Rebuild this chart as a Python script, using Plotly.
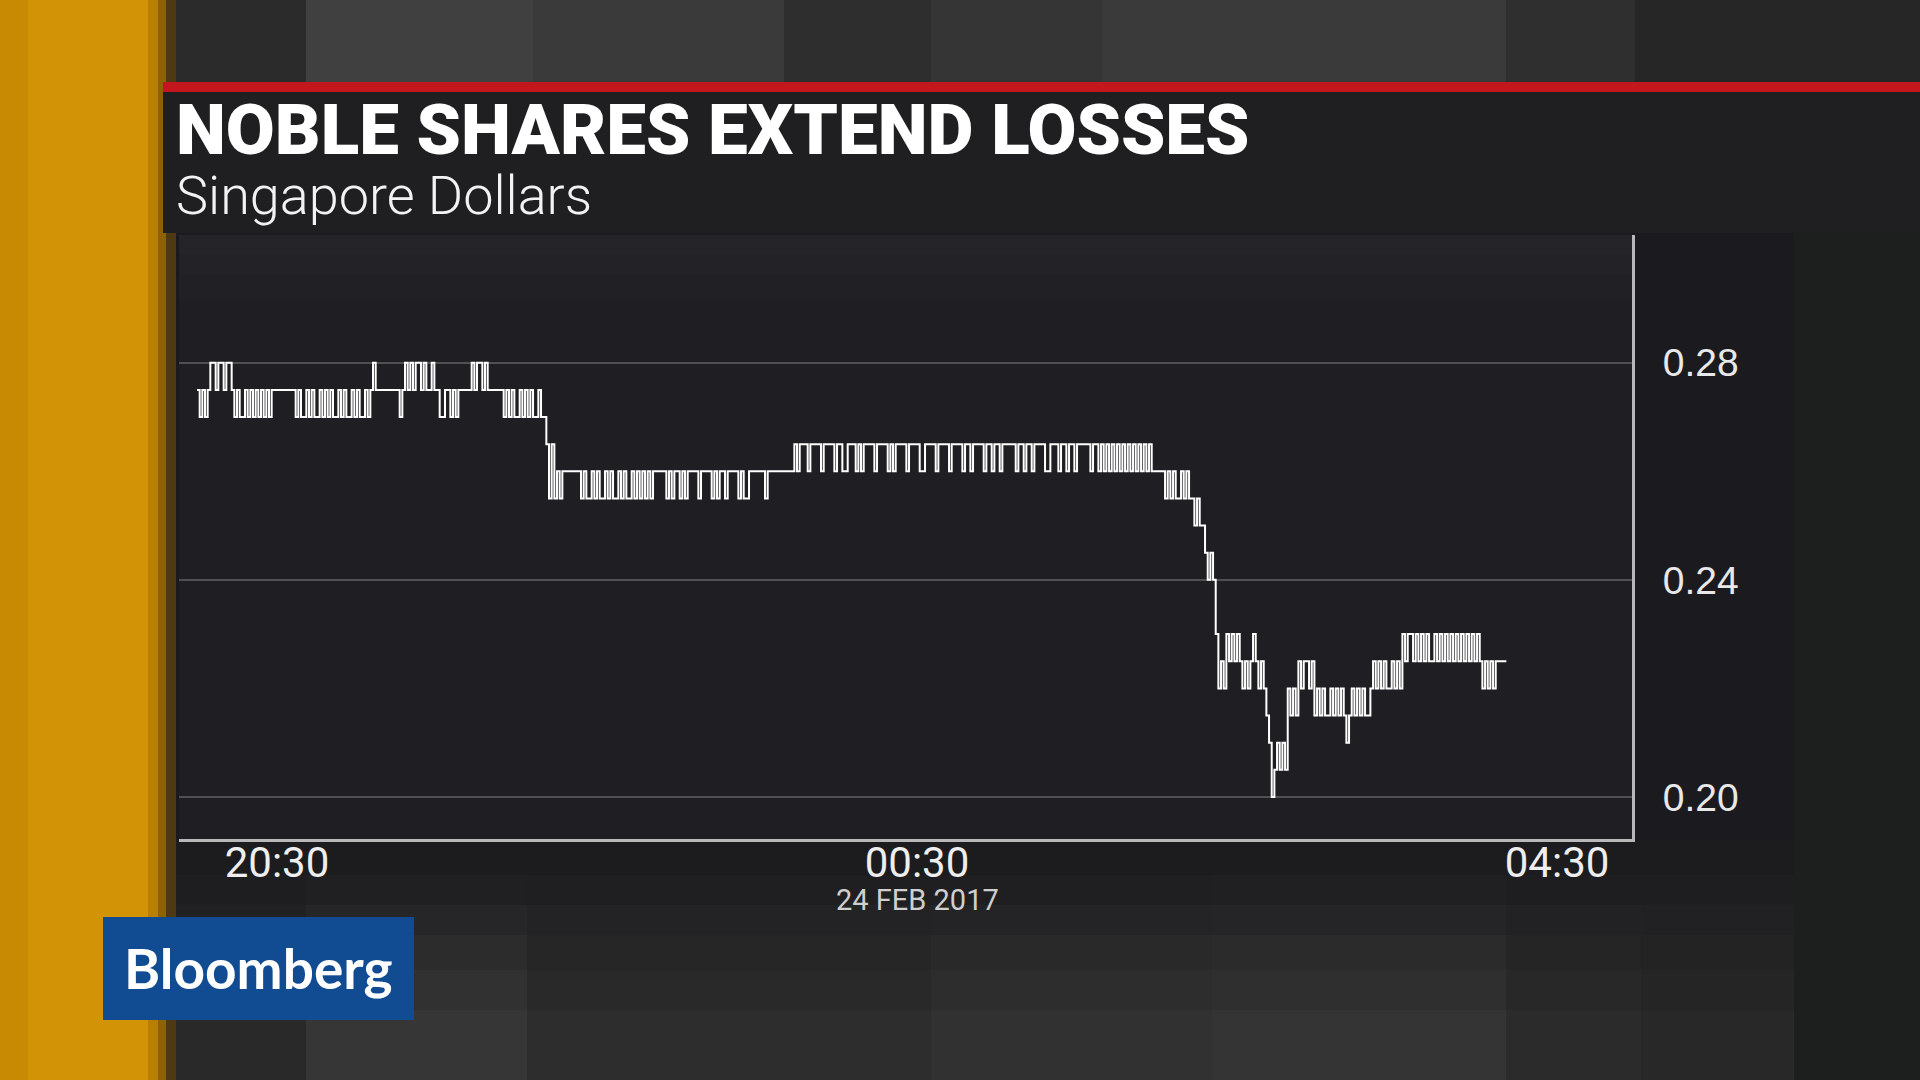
import pandas as pd
import plotly.graph_objects as go

# ---------------- data ----------------
TITLE = "NOBLE SHARES EXTEND LOSSES"
SUBTITLE = "Singapore Dollars"
DATE_LABEL = "24 FEB 2017"
SESSION_START = "2017-02-23 20:00"
X_TICKS = ["2017-02-23 20:30", "2017-02-24 00:30", "2017-02-24 04:30"]
X_TICK_LABELS = ["20:30", "00:30", "04:30"]
DATE_SEPARATOR = "2017-02-24 00:30"
Y_TICKS = [0.20, 0.24, 0.28]
Y_TICK_LABELS = ["0.20", "0.24", "0.28"]

# per-minute prices (SGD); each block starts N minutes after SESSION_START
block1_start = 0
block1_prices = [0.275, 0.27, 0.275, 0.27, 0.275, 0.28, 0.28, 0.275, 0.28, 0.28, 0.275, 0.28, 0.28,
                 0.275, 0.27, 0.275, 0.27, 0.27, 0.275, 0.27, 0.275, 0.27, 0.275, 0.27, 0.275, 0.27,
                 0.275, 0.27, 0.275, 0.275, 0.275, 0.275, 0.275, 0.275, 0.275, 0.275, 0.275]

block2_start = 37
block2_prices = [0.27, 0.275, 0.27, 0.27, 0.275, 0.27, 0.275, 0.27, 0.27, 0.275, 0.27, 0.275, 0.27,
                 0.275, 0.27, 0.27, 0.275, 0.27, 0.275, 0.27, 0.27, 0.275, 0.27, 0.275, 0.27, 0.27,
                 0.275, 0.27, 0.275, 0.28, 0.275, 0.275, 0.275, 0.275, 0.275, 0.275, 0.275, 0.275, 0.275]

block3_start = 76
block3_prices = [0.27, 0.275, 0.28, 0.275, 0.28, 0.275, 0.28, 0.28, 0.275, 0.28, 0.275, 0.275, 0.28,
                 0.275, 0.275, 0.27, 0.27, 0.275, 0.275, 0.27, 0.275, 0.27, 0.275, 0.275, 0.275,
                 0.275, 0.275, 0.28, 0.275, 0.28, 0.28, 0.275, 0.28, 0.275, 0.275, 0.275, 0.275,
                 0.275, 0.275, 0.27, 0.275, 0.27, 0.275, 0.27, 0.27, 0.275, 0.27, 0.275, 0.27, 0.275,
                 0.27, 0.27, 0.275, 0.27, 0.27]

block4_start = 131
block4_prices = [0.265, 0.255, 0.265, 0.255, 0.26, 0.255, 0.26, 0.26, 0.26, 0.26, 0.26, 0.26, 0.26,
                 0.255, 0.26, 0.255, 0.255, 0.26, 0.255, 0.26, 0.255, 0.255, 0.26, 0.255, 0.26,
                 0.255, 0.255, 0.26, 0.255, 0.26, 0.255, 0.255, 0.26, 0.255, 0.26, 0.255,
                 0.26, 0.255, 0.26, 0.255, 0.26, 0.26, 0.26, 0.26, 0.26, 0.255, 0.26, 0.255, 0.26,
                 0.26, 0.255, 0.26, 0.255, 0.26, 0.26, 0.26, 0.26, 0.255, 0.26, 0.26, 0.26, 0.26,
                 0.255, 0.26, 0.255, 0.26, 0.26, 0.255, 0.26, 0.26, 0.26, 0.26, 0.255, 0.26, 0.255,
                 0.255, 0.26, 0.26, 0.26, 0.26, 0.26, 0.26, 0.255, 0.26, 0.26, 0.26, 0.26,
                 0.26, 0.26, 0.26, 0.26, 0.26, 0.26]

block5_start = 224
block5_prices = [0.265, 0.26, 0.265, 0.265, 0.265, 0.26, 0.265, 0.265, 0.265, 0.265, 0.26, 0.265,
                 0.265, 0.265, 0.265, 0.26, 0.265, 0.265, 0.26, 0.26, 0.265, 0.265, 0.265, 0.26,
                 0.265, 0.26, 0.265, 0.265, 0.265, 0.265, 0.26, 0.265, 0.265, 0.265, 0.265, 0.26,
                 0.265, 0.26, 0.265, 0.265, 0.265, 0.265, 0.26, 0.265, 0.265, 0.265, 0.265, 0.26,
                 0.26, 0.265, 0.265, 0.265, 0.265, 0.26, 0.265, 0.265, 0.265, 0.265, 0.26, 0.265,
                 0.265, 0.265, 0.265, 0.26, 0.265, 0.265, 0.26, 0.265, 0.265, 0.265, 0.265, 0.26,
                 0.265, 0.265, 0.26, 0.265, 0.265, 0.26, 0.265, 0.265, 0.265, 0.265, 0.265, 0.26,
                 0.265, 0.265, 0.26, 0.265, 0.265, 0.26, 0.265, 0.265, 0.265, 0.265, 0.26, 0.26,
                 0.265, 0.265, 0.265, 0.26, 0.265, 0.265, 0.26, 0.265, 0.265, 0.26, 0.265, 0.265,
                 0.265, 0.265, 0.265, 0.26, 0.265, 0.265, 0.26, 0.265,
                 0.26, 0.265, 0.26, 0.265, 0.26, 0.265, 0.26, 0.265, 0.26, 0.265, 0.26, 0.265,
                 0.26, 0.265, 0.26, 0.265, 0.26, 0.265, 0.26]

block6_start = 363
block6_prices = [0.255, 0.26, 0.255, 0.26, 0.255, 0.255, 0.26, 0.255, 0.26, 0.255, 0.255,
                 0.25, 0.255, 0.25, 0.25,
                 0.245, 0.24, 0.245, 0.24,
                 0.23, 0.22, 0.225, 0.22, 0.23, 0.225, 0.23, 0.225, 0.23, 0.225, 0.22, 0.225,
                 0.22, 0.225, 0.23, 0.225,
                 0.22, 0.225, 0.22,
                 0.215,
                 0.21, 0.20, 0.205, 0.21, 0.205, 0.21, 0.205,
                 0.22, 0.215, 0.22, 0.215,
                 0.225, 0.22, 0.225, 0.225, 0.22, 0.225,
                 0.215, 0.22, 0.215, 0.22, 0.215, 0.215, 0.22, 0.215, 0.22, 0.215, 0.22, 0.215,
                 0.21, 0.215, 0.22, 0.215, 0.22, 0.215, 0.22, 0.215, 0.215, 0.22,
                 0.225, 0.22, 0.225, 0.22, 0.225, 0.22, 0.22, 0.225, 0.22, 0.225, 0.22,
                 0.23, 0.225, 0.23, 0.23, 0.225, 0.23, 0.225, 0.23, 0.225, 0.23, 0.225, 0.225,
                 0.23, 0.225, 0.23, 0.225, 0.23, 0.225, 0.23, 0.225, 0.23, 0.225, 0.23, 0.225,
                 0.23, 0.225, 0.23, 0.225, 0.23, 0.225,
                 0.22, 0.225, 0.22, 0.225, 0.22, 0.225, 0.225, 0.225, 0.225, 0.225]

blocks = [(block1_start, block1_prices), (block2_start, block2_prices), (block3_start, block3_prices),
          (block4_start, block4_prices), (block5_start, block5_prices), (block6_start, block6_prices)]

base = pd.Timestamp(SESSION_START)
times, prices = [], []
for start, vals in blocks:
    for i, v in enumerate(vals):
        times.append(base + pd.Timedelta(minutes=start + i))
        prices.append(v)

# ---------------- figure ----------------
W, H = 1920, 1080


def px_rect(x0, y0, x1, y1, color):
    return dict(type="rect", xref="paper", yref="paper", x0=x0 / W, x1=x1 / W,
                y0=1 - y1 / H, y1=1 - y0 / H, fillcolor=color, line=dict(width=0), layer="below")


shapes = []
# top backdrop bands
for x0, x1, c in [(0, 306, "#2e2e2e"), (306, 533, "#404040"), (533, 784, "#3a3a3a"),
                  (784, 931, "#2e2e2e"), (931, 1102, "#353535"), (1102, 1506, "#3a3a3a"),
                  (1506, 1635, "#2f2f2f"), (1635, 1920, "#262626")]:
    shapes.append(px_rect(x0, 0, x1, 92, c))
# lower backdrop bands
for x0, x1, c in [(0, 306, "#292929"), (306, 527, "#363636"), (527, 931, "#2d2d2d"),
                  (931, 1212, "#313131"), (1212, 1506, "#343434"), (1506, 1641, "#2b2b2b"),
                  (1641, 1794, "#282828"), (1794, 1920, "#1d1e1e")]:
    shapes.append(px_rect(x0, 840, x1, 1080, c))
# right dark column
shapes.append(px_rect(1794, 92, 1920, 1080, "#1d1e1e"))
# dark fade under the chart
for y0, y1, a in [(839, 875, 0.97), (875, 905, 0.8), (905, 935, 0.6), (935, 970, 0.38),
                  (970, 1010, 0.18)]:
    shapes.append(px_rect(176, y0, 1794, y1, f"rgba(28,28,31,{a})"))
# gold stripe
for x0, x1, c in [(0, 28, "#c88a02"), (28, 148, "#d29306"), (148, 158, "#b87f04"),
                  (158, 166, "#8c6204"), (166, 176, "#4d3a14")]:
    shapes.append(px_rect(x0, 0, x1, 1080, c))
# red rule and title panel
shapes.append(px_rect(163, 82, 1920, 92, "#c3161d"))
shapes.append(px_rect(163, 92, 1920, 233, "#1f1f22"))
# chart panel + plot background (with a soft lighter top)
shapes.append(px_rect(176, 233, 1794, 840, "#1b1b1f"))
shapes.append(px_rect(179, 235, 1632, 839, "#1f1f23"))
for y0, y1, a in [(235, 255, 0.10), (255, 275, 0.07), (275, 300, 0.04)]:
    shapes.append(px_rect(179, y0, 1632, y1, f"rgba(90,90,95,{a})"))
# Bloomberg logo box
shapes.append(px_rect(103, 917, 414, 1020, "#114c92"))

fig = go.Figure()
fig.add_trace(go.Scatter(x=times, y=prices, mode="lines", line_shape="hv",
                         line=dict(color="#ffffff", width=2), hoverinfo="skip"))

fig.add_vline(x=pd.Timestamp(DATE_SEPARATOR), line=dict(color="#505053", width=2), layer="below")

annotations = [
    dict(text=TITLE, x=174 / W, y=1 - 130 / H, xref="paper", yref="paper", xanchor="left",
         yanchor="middle", showarrow=False,
         font=dict(family="Roboto", size=71, color="#ffffff", weight=900)),
    dict(text=SUBTITLE, x=174 / W, y=1 - 196 / H, xref="paper", yref="paper", xanchor="left",
         yanchor="middle", showarrow=False,
         font=dict(family="Roboto", size=54, color="#f2f2f2", weight=300)),
    dict(text=DATE_LABEL, x=pd.Timestamp(DATE_SEPARATOR), y=1 - 900 / H, xref="x", yref="paper",
         xanchor="center", yanchor="middle", showarrow=False,
         font=dict(family="Roboto", size=29, color="#cfcfcf")),
    dict(text="Bloomberg", x=258 / W, y=1 - 968 / H, xref="paper", yref="paper",
         xanchor="center", yanchor="middle", showarrow=False,
         font=dict(family="Lato", size=55, color="#ffffff", weight=700)),
]

fig.update_layout(
    width=W, height=H,
    margin=dict(l=0, r=0, t=0, b=0),
    paper_bgcolor="#2b2b2b",
    plot_bgcolor="rgba(0,0,0,0)",
    showlegend=False,
    shapes=shapes,
    annotations=annotations,
    xaxis=dict(
        domain=[179 / W, 1632 / W], type="date",
        range=["2017-02-23 19:53:15", "2017-02-24 04:58:06"],
        tickvals=X_TICKS, ticktext=X_TICK_LABELS,
        tickfont=dict(family="Roboto", size=42, color="#eeeeee"),
        showgrid=False, zeroline=False, ticks="",
        showline=True, linecolor="#b8b8b8", linewidth=3,
        ticklabelstandoff=-15,
    ),
    yaxis=dict(
        domain=[1 - 839 / H, 1 - 235 / H], side="right",
        range=[0.19224, 0.30356],
        tickvals=Y_TICKS, ticktext=Y_TICK_LABELS,
        tickfont=dict(family="Liberation Sans", size=39, color="#e8e8e8"),
        showgrid=True, gridcolor="#505053", gridwidth=2, zeroline=False, ticks="",
        showline=True, linecolor="#b8b8b8", linewidth=3,
        ticklabelstandoff=20,
    ),
)

fig.write_html("out.html", config={"displayModeBar": False, "staticPlot": True},
               post_script="document.body.style.margin='0';document.body.style.overflow='hidden';")
